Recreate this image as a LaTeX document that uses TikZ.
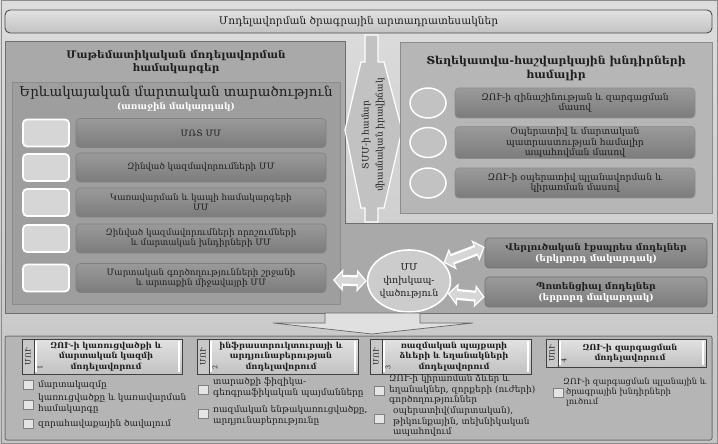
\documentclass[tikz,border=0pt]{standalone}
\usepackage{fontspec}
\setmainfont{DejaVu Serif}
\usetikzlibrary{shapes.geometric,arrows.meta,calc}
\definecolor{bgtop}{HTML}{DCDCDC}
\definecolor{bgbot}{HTML}{C4C4C4}
\definecolor{panelc}{HTML}{A9A9A9}
\definecolor{panelb}{HTML}{6E6E6E}
\definecolor{innerc}{HTML}{9E9E9E}
\definecolor{rowtop}{HTML}{9A9A9A}
\definecolor{rowbot}{HTML}{7C7C7C}
\definecolor{sqc}{HTML}{D6D6D6}
\definecolor{rboxc}{HTML}{B6B6B6}
\definecolor{ellc}{HTML}{C2C2C2}
\definecolor{txt}{HTML}{1E1E1E}
\definecolor{botc}{HTML}{B5B5B5}
\definecolor{hdtop}{HTML}{E2E2E2}
\definecolor{hdbot}{HTML}{C2C2C2}
\newcommand\myfs[2]{\fontsize{#1}{#2}\selectfont}
\begin{document}
\begin{tikzpicture}[x=1bp,y=-1bp,
  titlebar/.style={draw=black!70, line width=0.9bp, rounded corners=5bp, top color=hdtop, bottom color=hdbot, minimum width=707bp, minimum height=23bp, inner sep=0pt, text=txt, font=\myfs{10.6}{12}},
  panel/.style={draw=panelb, line width=1bp, fill=panelc},
  innerbox/.style={draw=black!45, line width=0.8bp, fill=innerc, inner sep=0pt},
  rowbox/.style={draw=black!50, line width=0.6bp, rounded corners=4bp, top color=rowtop, bottom color=rowbot, minimum width=250bp, minimum height=29bp, inner sep=1pt, align=center, text=txt, font=\myfs{8.8}{10}},
  sqbox/.style={draw=white, line width=1.8bp, fill=sqc, rounded corners=4bp, minimum width=46bp, minimum height=27bp, inner sep=0pt},
  rbox/.style={draw=black!45, line width=0.8bp, fill=rboxc, inner sep=0pt},
  rrow/.style={draw=black!45, line width=0.6bp, rounded corners=4bp, top color=rowtop, bottom color=rowbot, minimum width=240bp, minimum height=30bp, inner sep=1pt, align=center, text=txt, font=\myfs{9.3}{10.6}},
  rell/.style={ellipse, draw=white, line width=1.5bp, fill=ellc, minimum width=36bp, minimum height=30bp, inner sep=0pt},
  lvl/.style={draw=black!55, line width=0.7bp, rounded corners=4bp, top color=rowtop, bottom color=rowbot, minimum width=222bp, minimum height=30bp, inner sep=1pt, align=center, text=txt, font=\bfseries\myfs{9.2}{11}},
  hollow/.style={line width=11bp, white, {Triangle[width=22bp,length=10bp]}-{Triangle[width=22bp,length=10bp]}},
  hollowin/.style={line width=6.5bp, draw=sqc, {Triangle[width=15bp,length=7bp]}-{Triangle[width=15bp,length=7bp]}, shorten <=1.8bp, shorten >=1.8bp},
  hdbox/.style={draw=black!75, line width=0.7bp, top color=hdtop, bottom color=hdbot, inner sep=0pt},
  tabbox/.style={draw=black!75, line width=0.7bp, fill=hdbot!90, inner sep=0pt},
  hdtxt/.style={align=center, text=txt, font=\bfseries\myfs{8.3}{10.3}},
  tabtxt/.style={rotate=90, text=txt, font=\myfs{7.5}{8}},
  chk/.style={draw=black!50, line width=0.5bp, fill=white!90!black, minimum width=10bp, minimum height=9bp, inner sep=0pt},
  itm/.style={anchor=west, align=left, text=txt, font=\myfs{9}{10.4}, inner sep=0pt},
]
% background
\shade[top color=bgtop, bottom color=bgbot] (0,0) rectangle (718,444);
\draw[black!45, line width=1bp] (1,1) rectangle (717,443);

% title
\node[titlebar] (title) at (358.5,21.5) {Մոդելավորման ծրագրային արտադրատեսակներ};

% L-shaped panel
\draw[panel] (5,42) -- (345,42) -- (345,224) -- (712,224) -- (712,314) -- (5,314) -- cycle;
\node[align=center, text=txt, font=\bfseries\myfs{10.5}{13}] (lptitle) at (176,62) {Մաթեմատիկական մոդելավորման\\համակարգեր};

% imaginary battle space
\node[innerbox, minimum width=328bp, minimum height=222bp] (imag) at (176,193) {};
\node[text=txt, font=\myfs{13.5}{14}, inner sep=0pt] (imagt) at (176,93) {Երևակայական մարտական տարածություն};
\node[text=white, font=\bfseries\myfs{9}{9}, inner sep=0pt] (imagl) at (176,107) {(առաջին մակարդակ)};

\node[sqbox] (s1) at (46,133) {};
\node[sqbox] (s2) at (46,167.5) {};
\node[sqbox] (s3) at (46,202.5) {};
\node[sqbox] (s4) at (46,238.5) {};
\node[sqbox] (s5) at (46,278) {};
\node[rowbox] (r1) at (201,133) {ՄՌՏ ՄՄ};
\node[rowbox] (r2) at (201,167.5) {Զինված կազմավորումների ՄՄ};
\node[rowbox] (r3) at (201,202.5) {Կառավարման և կապի համակարգերի\\ՄՄ};
\node[rowbox] (r4) at (201,238.5) {Զինված կազմավորումների որոշումների\\և մարտական խնդիրների ՄՄ};
\node[rowbox] (r5) at (201,278) {Մարտական գործողությունների շրջանի\\և  արտաքին միջավայրի ՄՄ};

% hexagon arrow
\draw[draw=white, line width=1.2bp, fill=ellc] (365,35) -- (378,35) -- (378,62) -- (384,62) -- (402,130) -- (384,208) -- (378,208) -- (378,222) -- (365,222) -- (365,208) -- (361,208) -- (345,130) -- (361,62) -- (365,62) -- cycle;
\node[rotate=90, align=center, text=txt, font=\myfs{9}{14}] (hex) at (373,135) {ՏՄՄ-ի համար\\միասնական իրավիճակ};

% right box
\node[rbox, minimum width=312bp, minimum height=171bp] (rb) at (556,127.5) {};
\node[align=center, text=txt, font=\bfseries\myfs{11}{14}] (rbt) at (556,68) {Տեղեկատվա-հաշվարկային խնդիրների\\համալիր};
\node[rell] (e1) at (428,103) {};
\node[rell] (e2) at (428,142.5) {};
\node[rell] (e3) at (428,183) {};
\node[rrow] (q1) at (575,103) {ԶՈՒ-ի զինաշինության և զարգացման\\մասով};
\node[rrow] (q2) at (575,142.5) {Օպերատիվ և մարտական\\պատրաստության  համալիր\\ապահովման մասով};
\node[rrow] (q3) at (575,183) {ԶՈՒ-ի օպերատիվ պլանավորման և\\կիրառման մասով};

% interaction ellipse and level boxes
\node[ellipse, draw=white, line width=1.6bp, fill=white!80!black, minimum width=72bp, minimum height=62bp, inner sep=0pt, align=center, text=txt, font=\myfs{9.5}{13.5}] (mm) at (409,281) {ՄՄ\\փոխկապ-\\վածություն};
\node[lvl] (ver) at (596,253) {Վերլուծական էքսպրես մոդելներ\\{\color{white}(երկրորդ մակարդակ)}};
\node[lvl] (pot) at (596,292) {Պոտենցիալ  մոդելներ\\{\color{white}(երրորդ մակարդակ)}};
\coordinate (lp) at (333,280);

\draw[hollow] (lp) -- (mm.west);
\draw[hollowin] (lp) -- (mm.west);
\draw[hollow] (mm.28) -- ([yshift=6bp]ver.west);
\draw[hollowin] (mm.28) -- ([yshift=6bp]ver.west);
\draw[hollow] (mm.-18) -- ([yshift=-5bp]pot.west);
\draw[hollowin] (mm.-18) -- ([yshift=-5bp]pot.west);

% bottom panel
\draw[draw=black!55, line width=1bp, fill=botc, rounded corners=2bp] (5,336) rectangle (712,440);
\coordinate (bp) at (372,334);

% down arrow
\draw[draw=black!60, line width=0.7bp, fill=white!88!black] (325,313) -- (420,313) -- (420,323) -- (473,323) -- (bp) -- (273,323) -- (325,323) -- cycle;

% section headers
\foreach \n/\xa/\xb/\yb in {1/22/182/374, 2/197/358/374, 3/370/531/374, 4/546/706/367}{
  \draw[hdbox] (\xa,339) rectangle (\xb,\yb);
  \draw[white, line width=1.5bp] (\xa+14,341) -- (\xa+14,\yb-2);
  \draw[white, line width=1.5bp] (\xb-3,341) -- (\xb-3,\yb-2);
  \draw[tabbox] (\xa,339) rectangle (\xa+12,\yb);
  \node[tabtxt] (tab\n) at (\xa+6,{(339+\yb)/2}) {ՄՈՒ};
  \node[rotate=90, text=txt, font=\myfs{6.5}{6.5}, inner sep=0pt] (num\n) at (\xa+18,\yb-7) {\n};
}
\node[hdtxt] (h1) at (106,356.5) {ԶՈՒ-ի կառուցվածքի և\\մարտական կազմի\\մոդելավորում};
\node[hdtxt] (h2) at (281,356.5) {ինֆրաստրուկտուրայի և\\արդյունաբերության\\մոդելավորում};
\node[hdtxt] (h3) at (454,356.5) {ռազմական պայքարի\\ձևերի և եղանակների\\մոդելավորում};
\node[hdtxt] (h4) at (630,353) {ԶՈՒ-ի զարգացման\\մոդելավորում};

% items section 1
\node[chk] (c11) at (28,385) {};
\node[itm] (i11) at (38,385) {մարտակազմը};
\node[chk] (c12) at (28,405) {};
\node[itm] (i12) at (38,403.5) {կառուցվածքը և կառավարման\\համակարգը};
\node[chk] (c13) at (28,424) {};
\node[itm] (i13) at (38,424) {զորահավաքային ծավալում};
% section 2
\node[chk] (c21) at (203,390) {};
\node[itm] (i21) at (213,387.5) {տարածքի ֆիզիկա-\\գեոգրաֆիկական պայմանները};
\node[chk] (c22) at (203,414) {};
\node[itm] (i22) at (213,415.5) {ռազմական ենթակառուցվածքը,\\արդյունաբերությունը};
% section 3
\node[chk] (c31) at (379,391) {};
\node[itm] (i31) at (389,389.5) {ԶՈՒ-ի կիրառման ձևեր և\\եղանակներ, զորքերի (ուժերի)\\գործողություններ};
\node[chk] (c32) at (379,419) {};
\node[itm] (i32) at (393,421.5) {օպերատիվ(մարտական),\\թիկունքային, տեխնիկական\\ապահովում};
% section 4
\node[chk] (c41) at (558,393) {};
\node[itm, font=\myfs{8.4}{10.4}] (i41) at (563,392) {ԶՈՒ-ի զարգացման պլանային և\\\hspace*{3bp}ծրագրային խնդիրների\\\hspace*{3bp}լուծում};
\end{tikzpicture}
\end{document}
